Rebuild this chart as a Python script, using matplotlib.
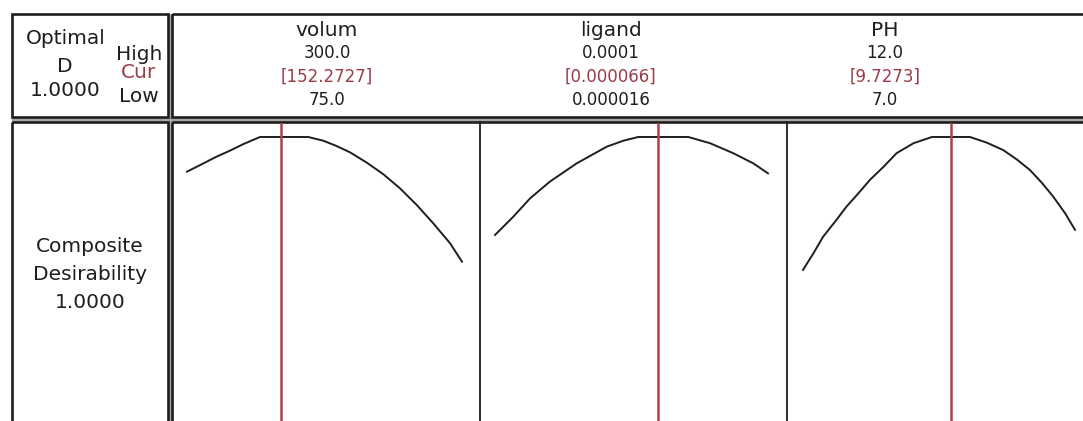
import numpy as np
import matplotlib
matplotlib.use("Agg")
import matplotlib.pyplot as plt
from matplotlib.patches import Rectangle

# factor settings from the optimizer
factors = ["volum", "ligand", "PH"]
high_labels = ["300.0", "0.0001", "12.0"]
cur_labels = ["[152.2727]", "[0.000066]", "[9.7273]"]
low_labels = ["75.0", "0.000016", "7.0"]
low_vals = [75.0, 0.000016, 7.0]
high_vals = [300.0, 0.0001, 12.0]
cur_vals = [152.2727, 0.000066, 9.7273]
optimal_d = "1.0000"
composite_d = "1.0000"

# composite desirability traced along each factor
volum_x = [75, 85.6, 99.3, 110.2, 121.1, 134.7, 174.2, 186.5, 197.5, 208.4,
           222.0, 235.6, 249.3, 262.9, 276.5, 290.2, 300]
volum_d = [0.878, 0.901, 0.931, 0.952, 0.975, 1.0, 1.0, 0.987, 0.968, 0.946,
           0.910, 0.869, 0.819, 0.761, 0.696, 0.626, 0.561]
ligand_x = [16.0e-6, 21.6e-6, 26.8e-6, 32.9e-6, 41.1e-6, 50.4e-6, 55.5e-6,
            60.1e-6, 75.5e-6, 82.2e-6, 89.3e-6, 95.5e-6, 100e-6]
ligand_d = [0.655, 0.719, 0.784, 0.843, 0.907, 0.966, 0.987,
            1.0, 1.0, 0.978, 0.943, 0.907, 0.872]
ph_x = [7.0, 7.19, 7.37, 7.59, 7.80, 8.02, 8.23, 8.48, 8.72, 9.03, 9.37,
        10.07, 10.38, 10.68, 10.93, 11.17, 11.39, 11.60, 11.82, 12.0]
ph_d = [0.532, 0.590, 0.649, 0.702, 0.755, 0.802, 0.849, 0.895, 0.943, 0.978, 1.0,
        1.0, 0.980, 0.954, 0.921, 0.884, 0.839, 0.790, 0.731, 0.673]

curves = [(volum_x, volum_d), (ligand_x, ligand_d), (ph_x, ph_d)]

W, H = 1083, 421
red = "#b0404f"
cur_col = "#9b3b4a"
ink = "#1e1e1e"

plt.rcParams["font.family"] = ["DejaVu Sans"]
fig = plt.figure(figsize=(W / 100, H / 100), dpi=100)

# pixel-space layer for boxes and text
frame = fig.add_axes([0, 0, 1, 1])
frame.set_xlim(0, W)
frame.set_ylim(H, 0)
frame.axis("off")

def box(x0, y0, x1, y1):
    frame.add_patch(Rectangle((x0, y0), x1 - x0, y1 - y0, fill=False,
                              edgecolor=ink, lw=1.9, clip_on=False))

# grey bands between the boxes
frame.add_patch(Rectangle((12, 117), W, 5, color="#a8a8a8", lw=0))
frame.add_patch(Rectangle((168, 14), 4, H, color="#a8a8a8", lw=0))
box(12, 14, 168, 117)
box(12, 122, 168, H + 10)
box(172, 14, W + 20, 117)
box(172, 122, W + 20, H + 10)
for xd in [480, 787]:
    frame.plot([xd, xd], [122, H + 5], color=ink, lw=1.3)

# left header
lab = 14.5
frame.text(66, 39, "Optimal", ha="center", va="center", fontsize=lab, color=ink)
frame.text(65, 66, "D", ha="center", va="center", fontsize=lab, color=ink)
frame.text(65, 90, optimal_d, ha="center", va="center", fontsize=lab, color=ink)
frame.text(139, 54, "High", ha="center", va="center", fontsize=lab, color=ink)
frame.text(139, 73, "Cur", ha="center", va="center", fontsize=lab, color=cur_col)
frame.text(139, 96, "Low", ha="center", va="center", fontsize=lab, color=ink)

frame.text(90, 247, "Composite", ha="center", va="center", fontsize=lab, color=ink)
frame.text(90, 275, "Desirability", ha="center", va="center", fontsize=lab, color=ink)
frame.text(90, 303, composite_d, ha="center", va="center", fontsize=lab, color=ink)

# factor headers
head_x = [327, 611, 885]
for i, name in enumerate(factors):
    hx = head_x[i]
    frame.text(hx, 30, name, ha="center", va="center", fontsize=lab, color=ink)
    frame.text(hx, 53, high_labels[i], ha="center", va="center", fontsize=12, color=ink)
    frame.text(hx, 77, cur_labels[i], ha="center", va="center", fontsize=12, color=cur_col)
    frame.text(hx, 100, low_labels[i], ha="center", va="center", fontsize=12, color=ink)

# one small axes per factor, spanning low..high
span_px = [(187, 462), (495, 768), (803, 1075)]
top_px, d1_px, bot_px = 123, 137, H
for i, (xs, ds) in enumerate(curves):
    x0, x1 = span_px[i]
    ax = fig.add_axes([x0 / W, 0, (x1 - x0) / W, (bot_px - top_px) / H])
    ax.set_xlim(low_vals[i], high_vals[i])
    ax.set_ylim(0, 1 + (d1_px - top_px) / (bot_px - d1_px))
    ax.axis("off")
    ax.plot(xs, ds, color=ink, lw=1.4, clip_on=False)
    ax.axvline(cur_vals[i], color=red, lw=1.8)

fig.savefig("out.png", dpi=100)
